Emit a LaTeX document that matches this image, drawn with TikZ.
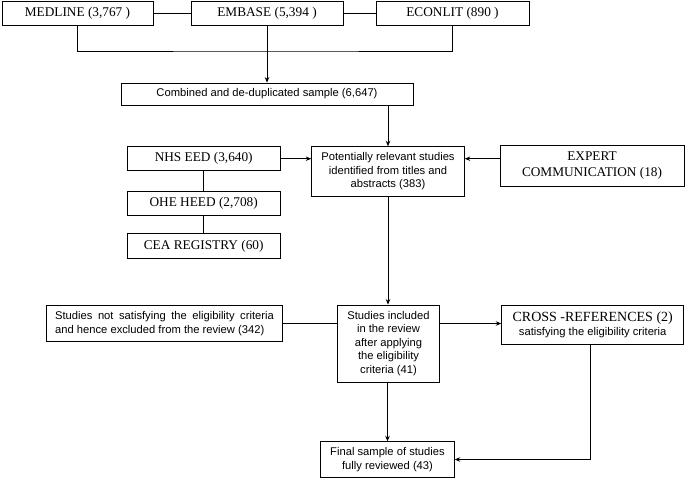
\documentclass[tikz,border=0pt]{standalone}
\usepackage{fontspec}
\setmainfont{Liberation Serif}
\newfontfamily\arialfont{Liberation Sans}
\usetikzlibrary{arrows.meta}

\tikzset{
  box/.style={draw, rectangle, inner sep=0pt, align=center},
  serifbox/.style={box, font=\fontsize{13.3}{16}\selectfont},
  sansbox/.style={box, font=\arialfont\fontsize{11.2}{13.5}\selectfont},
  arr/.style={-{Stealth[length=5.5pt,width=4.5pt]}}
}

\begin{document}
\begin{tikzpicture}[line width=0.8pt, x=1pt, y=-1pt]
\useasboundingbox (0,0) rectangle (685,478);
%databases
  \node[serifbox, minimum width=151pt, minimum height=24pt] (medline) at (77.5,13) {MEDLINE (3,767 )};
  \node[serifbox, minimum width=152pt, minimum height=24pt] (embase) at (267,13) {EMBASE (5,394 )};
  \node[serifbox, minimum width=153pt, minimum height=24pt] (econlit) at (452.5,13) {ECONLIT (890 )};
  \coordinate (join) at (267,51);
  \node[sansbox, minimum width=292pt, minimum height=22pt] (combined) at (267,94) {Combined and de-duplicated sample (6,647)};

%screening
  \node[sansbox, font=\arialfont\fontsize{11.2}{13.3}\selectfont,
        minimum width=152.7pt, minimum height=49.3pt] (potential) at (388,171.3)
    {Potentially relevant studies\\identified from titles and\\abstracts (383)};
  \node[serifbox, minimum width=152.7pt, minimum height=24pt] (nhs) at (203.7,158.7) {NHS EED (3,640)};
  \node[serifbox, minimum width=152.7pt, minimum height=24.7pt] (ohe) at (203.7,203.3) {OHE HEED (2,708)};
  \node[serifbox, minimum width=152.7pt, minimum height=24.7pt] (cea) at (203.7,246) {CEA REGISTRY (60)};
  \node[serifbox, minimum width=184pt, minimum height=41.7pt] (expert) at (592,165.8) {EXPERT\\COMMUNICATION (18)};

%eligibility
  \node[sansbox, font=\arialfont\fontsize{11.2}{14}\selectfont, align=left,
        minimum width=235.6pt, minimum height=35.6pt] (excluded) at (164.5,323.5)
    {\makebox[218.7pt][s]{Studies not satisfying the eligibility criteria}\\and hence excluded from the review (342)};
  \node[sansbox, minimum width=101.6pt, minimum height=77pt] (included) at (388.5,343.5)
    {Studies included\\in the review\\after applying\\the eligibility\\criteria (41)};
  \node[sansbox, font=\arialfont\fontsize{11.2}{14}\selectfont,
        minimum width=182pt, minimum height=38.3pt] (cross) at (592.7,324.8)
    {{\rmfamily\fontsize{14}{14}\selectfont CROSS -REFERENCES (2)}\\satisfying the eligibility criteria};
  \node[sansbox, font=\arialfont\fontsize{11.2}{14.3}\selectfont,
        minimum width=133.6pt, minimum height=35.6pt] (final) at (387.5,459.5)
    {Final sample of studies\\fully reviewed (43)};

%edges
  \draw (medline) -- (embase);
  \draw (embase) -- (econlit);
  \draw (medline.south) |- (join) -| (econlit.south);
  \draw[arr] (embase) -- (combined);
  \draw[arr] (combined.south -| potential.north) -- (potential.north);
  \draw[arr] (nhs.east) -- (nhs.east -| potential.west);
  \draw[arr] (expert.west |- nhs.east) -- (potential.east |- nhs.east);
  \draw (nhs) -- (ohe);
  \draw (ohe) -- (cea);
  \draw[arr] (potential.south) -- (potential.south |- included.north);
  \draw (excluded.east) -- (excluded.east -| included.west);
  \draw[arr] (included.east |- excluded.east) -- (cross.west |- excluded.east);
  \draw[arr] (included.south -| final.north) -- (final.north);
  \draw[arr] (cross.south -| 590,0) |- (final.east);
\end{tikzpicture}
\end{document}
